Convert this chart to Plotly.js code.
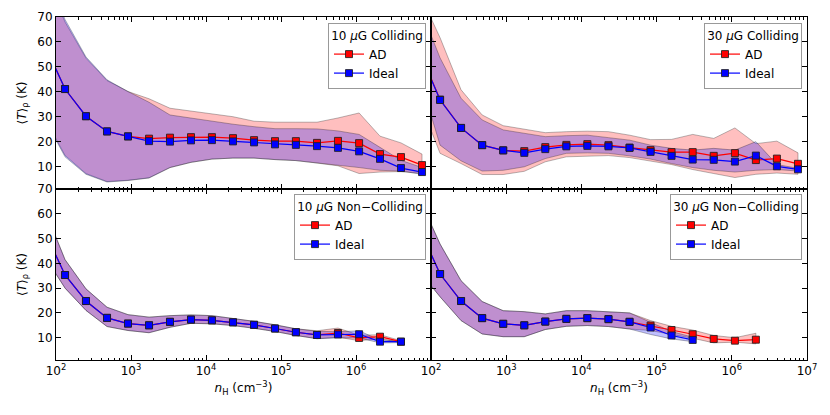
<!DOCTYPE html>
<html>
<head>
<meta charset="utf-8">
<script src="https://cdn.plot.ly/plotly-3.0.1.min.js"></script>
<style>
html,body{margin:0;padding:0;background:#fff;}
#chart{width:830px;height:415px;}
</style>
</head>
<body>
<div id="chart"></div>
<script>
// density bins (cm^-3); first bin lies just left of the plotted range
const nH = [69, 132, 251, 479, 912, 1740, 3310, 6310, 12000, 22900, 43700, 83200, 158000, 302000, 575000, 1100000, 2090000, 3980000, 7590000];

// 10 uG Colliding
const c10Ad      = [59.6, 41.1, 30.2, 24.1, 22.1, 21.2, 21.6, 21.8, 21.8, 21.4, 20.6, 20.2, 20.2, 19.5, 20.3, 19.4, 15.0, 13.8, 10.6];
const c10Ideal   = [59.6, 41.1, 30.2, 24.1, 22.1, 20.2, 20.0, 20.5, 20.6, 20.1, 19.7, 18.9, 18.7, 18.2, 17.5, 16.1, 13.1, 9.4, 7.8];
const c10AdHi    = [88, 68, 53.5, 44.5, 40.1, 37.2, 33.4, 32.3, 31.4, 30.0, 28.2, 27.8, 27.8, 27.8, 29.5, 31.5, 22.2, 19.5, 15.0];
const c10AdLo    = [30, 14.5, 7.2, 4.0, 4.5, 5.5, 9.6, 11.7, 13.0, 13.4, 13.4, 12.8, 12.4, 11.4, 10.3, 7.2, 7.8, 8.0, 7.2];
const c10IdealHi = [90, 69, 54, 44.8, 40.1, 35.8, 30.7, 29.4, 28.4, 27.0, 26.0, 25.2, 25.2, 25.1, 24.3, 22.9, 17.7, 12.5, 9.6];
const c10IdealLo = [29.5, 13.9, 6.9, 3.8, 4.4, 5.4, 9.6, 11.7, 13.0, 13.4, 13.4, 12.8, 12.4, 11.5, 10.5, 9.6, 8.5, 8.2, 6.9];

// 30 uG Colliding
const c30Ad      = [56.9, 36.9, 25.5, 18.6, 16.5, 16.2, 17.8, 18.7, 19.0, 18.6, 17.6, 16.6, 15.8, 15.8, 14.3, 15.4, 12.6, 13.2, 11.1];
const c30Ideal   = [56.7, 36.7, 25.5, 18.6, 16.5, 15.5, 17.0, 18.1, 18.3, 18.1, 17.5, 15.9, 14.3, 12.8, 12.7, 12.0, 14.4, 10.1, 8.9];
const c30AdHi    = [80, 61.7, 40.8, 30.7, 26.4, 25.0, 23.6, 24.0, 24.2, 24.0, 22.6, 20.8, 20.9, 22.9, 21.3, 25.5, 19.2, 20.2, 15.5];
const c30AdLo    = [37, 15.3, 11.2, 6.8, 6.8, 8.1, 11.9, 13.9, 14.3, 14.4, 13.6, 12.3, 10.8, 8.8, 7.2, 5.6, 6.9, 7.4, 6.9];
const c30IdealHi = [75, 53.6, 37.4, 28.7, 24.7, 23.3, 22.0, 22.4, 22.6, 21.6, 20.6, 18.6, 17.3, 16.6, 17.3, 16.6, 20.0, 10.8, 9.3];
const c30IdealLo = [46.8, 18.6, 12.3, 8.2, 8.5, 9.9, 13.2, 15.3, 15.5, 15.3, 14.3, 13.0, 11.2, 9.6, 8.5, 7.8, 8.5, 8.8, 8.2];

// 10 uG Non-Colliding
const n10Ad      = [53.5, 35.3, 24.8, 18.0, 15.7, 15.0, 16.4, 17.3, 17.0, 16.2, 15.2, 13.7, 12.2, 11.1, 11.9, 9.9, 10.4, 8.4];
const n10Ideal   = [53.5, 35.3, 24.8, 18.0, 15.7, 15.0, 16.4, 17.3, 17.0, 16.2, 15.2, 13.7, 12.2, 11.1, 11.3, 11.4, 8.4, 8.4];
const n10AdHi    = [62.5, 41.5, 29.7, 22.3, 19.3, 18.3, 18.9, 19.2, 18.9, 17.9, 16.6, 15.2, 13.6, 12.8, 13.9, 11.0, 11.2, 8.8];
const n10AdLo    = [43.3, 30.0, 21.0, 14.5, 12.9, 12.0, 14.2, 15.8, 15.6, 14.9, 13.8, 12.5, 10.9, 9.6, 10.2, 8.8, 9.6, 8.0];
const n10IdealHi = [62.5, 41.5, 29.7, 22.3, 19.3, 18.3, 18.9, 19.2, 18.9, 17.9, 16.6, 15.2, 13.6, 12.6, 12.4, 12.8, 9.0, 8.8];
const n10IdealLo = [43.3, 30.0, 21.0, 14.5, 12.9, 12.0, 14.2, 15.8, 15.6, 14.9, 13.8, 12.5, 10.9, 9.6, 9.9, 9.9, 7.9, 8.0];

// 30 uG Non-Colliding
const n30Ad      = [54.6, 35.7, 24.8, 17.9, 15.6, 15.0, 16.5, 17.6, 17.9, 17.5, 16.4, 14.9, 13.1, 11.4, 9.5, 8.8, 9.2];
const n30Ideal   = [54.6, 35.7, 24.8, 17.9, 15.6, 15.0, 16.5, 17.6, 17.9, 17.5, 16.4, 14.1, 10.9, 9.1];
const n30AdHi    = [66.7, 47.8, 33.0, 24.6, 20.9, 20.5, 19.6, 20.9, 20.9, 20.3, 20.0, 16.9, 14.6, 13.1, 10.9, 10.0, 11.8];
const n30AdLo    = [37.0, 26.5, 16.9, 11.5, 10.4, 10.4, 13.3, 14.6, 14.9, 14.5, 13.5, 12.9, 11.3, 9.8, 7.9, 8.2, 7.5];
const n30IdealHi = [66.7, 47.8, 33.0, 24.6, 20.9, 20.5, 19.6, 20.9, 20.9, 20.3, 20.0, 16.2, 12.5, 10.2];
const n30IdealLo = [37.0, 26.5, 16.9, 11.5, 10.4, 10.4, 13.3, 14.6, 14.9, 14.5, 13.5, 11.3, 9.5, 8.4];

const panelTitles = ['10 <i>μ</i>G Colliding', '30 <i>μ</i>G Colliding', '10 <i>μ</i>G Non−Colliding', '30 <i>μ</i>G Non−Colliding'];
const seriesNames = ['AD', 'Ideal'];
const xTickVals = [1e2, 1e3, 1e4, 1e5, 1e6, 1e7];
const xTickText = ['10<sup>2</sup>', '10<sup>3</sup>', '10<sup>4</sup>', '10<sup>5</sup>', '10<sup>6</sup>', '10<sup>7</sup>'];
const yTickVals = [10, 20, 30, 40, 50, 60, 70];

const minorVals = [];
for (let e = 2; e < 7; e++) for (let m = 2; m <= 9; m++) minorVals.push(m * Math.pow(10, e));

const AD_FILL = 'rgba(255,0,0,0.25)';
const ID_FILL = 'rgba(0,0,255,0.25)';
const EDGE = 'rgba(0,0,0,0.28)';

function band(hi, lo, fill, xa, ya) {
  const n = hi.length;
  const xs = nH.slice(0, n);
  return {
    x: xs.concat(xs.slice().reverse()),
    y: hi.concat(lo.slice().reverse()),
    xaxis: xa, yaxis: ya, type: 'scatter', mode: 'lines',
    fill: 'toself', fillcolor: fill,
    line: {color: EDGE, width: 1},
    hoverinfo: 'skip', showlegend: false
  };
}
function series(vals, name, color, xa, ya, leg) {
  return {
    x: nH.slice(0, vals.length), y: vals,
    xaxis: xa, yaxis: ya, type: 'scatter', mode: 'lines+markers',
    name: name, legend: leg,
    line: {color: color, width: 1.2},
    marker: {symbol: 'square', size: 7, color: color, line: {color: 'rgba(30,30,30,0.85)', width: 1}}
  };
}

const panels = [
  {xa: 'x',  ya: 'y',  leg: 'legend',  ad: c10Ad, id: c10Ideal, adHi: c10AdHi, adLo: c10AdLo, idHi: c10IdealHi, idLo: c10IdealLo},
  {xa: 'x2', ya: 'y2', leg: 'legend2', ad: c30Ad, id: c30Ideal, adHi: c30AdHi, adLo: c30AdLo, idHi: c30IdealHi, idLo: c30IdealLo},
  {xa: 'x3', ya: 'y3', leg: 'legend3', ad: n10Ad, id: n10Ideal, adHi: n10AdHi, adLo: n10AdLo, idHi: n10IdealHi, idLo: n10IdealLo},
  {xa: 'x4', ya: 'y4', leg: 'legend4', ad: n30Ad, id: n30Ideal, adHi: n30AdHi, adLo: n30AdLo, idHi: n30IdealHi, idLo: n30IdealLo}
];

const data = [];
panels.forEach(p => {
  data.push(band(p.adHi, p.adLo, AD_FILL, p.xa, p.ya));
  data.push(band(p.idHi, p.idLo, ID_FILL, p.xa, p.ya));
});
panels.forEach(p => {
  data.push(series(p.ad, seriesNames[0], '#ff0000', p.xa, p.ya, p.leg));
  data.push(series(p.id, seriesNames[1], '#0000ff', p.xa, p.ya, p.leg));
});

const W = 830, H = 415;
const mL = 56, mR = 23, mT = 17, mB = 55;
const pw = W - mL - mR, ph = H - mT - mB;
const xSplit = (431 - mL) / pw;
const ySplit = (360 - 189) / ph;
const FONT = 'DejaVu Sans, Liberation Sans, sans-serif';

function xaxis(domain, anchor, labels, tickvals, ticktext, title) {
  return {
    type: 'log', range: [2, 7], domain: domain, anchor: anchor,
    tickmode: 'array', tickvals: tickvals, ticktext: ticktext, showticklabels: labels,
    ticks: 'inside', ticklen: 5, tickwidth: 1, tickcolor: '#000',
    minor: {tickmode: 'array', tickvals: minorVals, ticks: 'inside', ticklen: 2.5, tickwidth: 1, tickcolor: '#000', showgrid: false},
    showline: true, linecolor: '#000', linewidth: 1, mirror: 'allticks',
    showgrid: false, zeroline: false,
    tickfont: {family: FONT, size: 12, color: '#000'},
    title: title ? {text: title, font: {family: FONT, size: 12, color: '#000'}, standoff: 6} : {text: ''}
  };
}
function yaxis(domain, anchor, labels, title) {
  return {
    range: [1, 70], domain: domain, anchor: anchor,
    tickmode: 'array', tickvals: yTickVals, showticklabels: labels,
    ticks: 'inside', ticklen: 5, tickwidth: 1, tickcolor: '#000',
    showline: true, linecolor: '#000', linewidth: 1, mirror: 'allticks',
    showgrid: false, zeroline: false,
    tickfont: {family: FONT, size: 12, color: '#000'},
    title: title ? {text: title, font: {family: FONT, size: 12, color: '#000'}, standoff: 8} : {text: ''}
  };
}
function legend(title, xr, yt) {
  return {
    x: (xr - mL) / pw, xanchor: 'right', y: (360 - yt) / ph, yanchor: 'top',
    bgcolor: '#fff', bordercolor: '#999', borderwidth: 1,
    font: {family: FONT, size: 12, color: '#000'},
    title: {text: title, side: 'top center', font: {family: FONT, size: 12, color: '#000'}},
    itemwidth: 30, tracegroupgap: 0, traceorder: 'normal'
  };
}

const yTitle = '⟨<i>T</i>⟩<sub>ρ</sub> (K)';
const xTitle = '<i>n</i><sub>H</sub> (cm<sup>−3</sup>)';

const layout = {
  width: W, height: H,
  margin: {l: mL, r: mR, t: mT, b: mB},
  paper_bgcolor: '#fff', plot_bgcolor: '#fff',
  font: {family: FONT, size: 12, color: '#000'},
  xaxis:  xaxis([0, xSplit], 'y',  false, xTickVals, xTickText, null),
  xaxis2: xaxis([xSplit, 1], 'y2', false, xTickVals, xTickText, null),
  xaxis3: xaxis([0, xSplit], 'y3', true, xTickVals.slice(0, 5), xTickText.slice(0, 5), xTitle),
  xaxis4: xaxis([xSplit, 1], 'y4', true, xTickVals, xTickText, xTitle),
  yaxis:  yaxis([ySplit, 1], 'x',  true, yTitle),
  yaxis2: yaxis([ySplit, 1], 'x2', false, null),
  yaxis3: yaxis([0, ySplit], 'x3', true, yTitle),
  yaxis4: yaxis([0, ySplit], 'x4', false, null),
  legend:  legend(panelTitles[0], 426, 23),
  legend2: legend(panelTitles[1], 802, 23),
  legend3: legend(panelTitles[2], 426, 194),
  legend4: legend(panelTitles[3], 802, 194),
  shapes: [
    {type: 'line', xref: 'paper', yref: 'paper', x0: xSplit, x1: xSplit, y0: 0, y1: 1, line: {color: '#000', width: 2}}
  ]
};

Plotly.newPlot('chart', data, layout, {staticPlot: true, displayModeBar: false});
</script>
</body>
</html>
